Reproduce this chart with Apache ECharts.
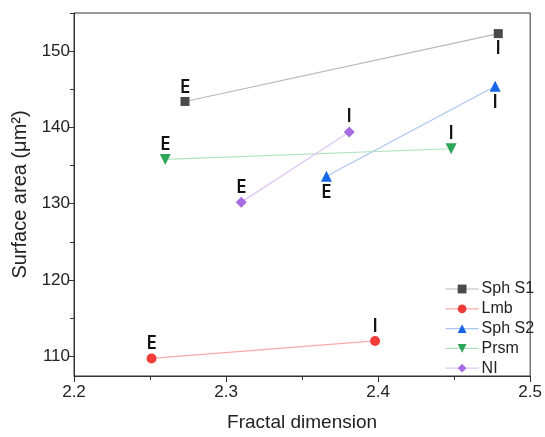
<!DOCTYPE html>
<html>
<head>
<meta charset="utf-8">
<script src="https://cdn.jsdelivr.net/npm/echarts@6/dist/echarts.min.js"></script>
<style>html,body{margin:0;padding:0;background:#fff}#chart{width:545px;height:437px}</style>
</head>
<body>
<div id="chart"></div>
<script>
// ---- data ----
const seriesNames = ['Sph S1', 'Lmb', 'Sph S2', 'Prsm', 'NI'];
const sphS1X = [2.273, 2.479];
const sphS1Y = [143.4, 152.3];
const lmbX = [2.251, 2.398];
const lmbY = [109.7, 112.0];
const sphS2X = [2.366, 2.477];
const sphS2Y = [133.6, 145.4];
const prsmX = [2.260, 2.448];
const prsmY = [135.8, 137.2];
const nlX = [2.310, 2.381];
const nlY = [130.2, 139.4];
const pointLabels = ['E', 'I'];
const xTicks = [2.2, 2.3, 2.4, 2.5];
const yTicks = [110, 120, 130, 140, 150];
const yMinorTicks = [110, 115, 120, 125, 130, 135, 140, 145, 150, 155];

// ---- styles ----
const styles = [
  {sym: 'rect', size: 9, rot: 0, color: '#4a4a4a', line: '#b8b8b8', pos: ['top', 'bottom']},
  {sym: 'circle', size: 10, rot: 0, color: '#f23b3b', line: '#f8aaaa', pos: ['top', 'top']},
  {sym: 'triangle', size: 11, rot: 0, color: '#1766e6', line: '#a8c6f4', pos: ['bottom', 'bottom']},
  {sym: 'triangle', size: 11, rot: 180, color: '#2ea65a', line: '#b0e2bf', pos: ['top', 'top']},
  {sym: 'diamond', size: 11, rot: 0, color: '#a66ce2', line: '#dfc5f7', pos: ['top', 'top']}
];
const xs = [sphS1X, lmbX, sphS2X, prsmX, nlX];
const ys = [sphS1Y, lmbY, sphS2Y, prsmY, nlY];

const series = seriesNames.map((name, i) => {
  const st = styles[i];
  return {
    name: name,
    type: 'line',
    symbol: st.sym,
    symbolSize: st.size,
    symbolRotate: st.rot,
    itemStyle: {color: st.color},
    lineStyle: {color: st.line, width: 1.2},
    z: 3,
    data: xs[i].map((x, j) => ({
      value: [x, ys[i][j]],
      label: {
        show: true,
        formatter: pointLabels[j],
        position: st.pos[j],
        distance: st.pos[j] === 'bottom' ? 3 : 2,
        color: '#111',
        fontFamily: 'Open Sans',
        fontWeight: 600,
        fontSize: 19,
        lineHeight: 15
      }
    }))
  };
});

const chart = echarts.init(document.getElementById('chart'), null, {renderer: 'canvas'});
chart.setOption({
  animation: false,
  backgroundColor: '#fff',
  grid: {left: 74, right: 13, top: 13, bottom: 56, show: true, borderColor: '#333', borderWidth: 1, backgroundColor: 'transparent'},
  legend: {
    orient: 'vertical',
    left: 440,
    top: 276,
    itemWidth: 33,
    itemHeight: 11,
    itemGap: 3.8,
    textStyle: {fontFamily: 'Liberation Sans', fontSize: 16, color: '#222', padding: [0, 0, 0, -2]},
    data: seriesNames.map((n, i) => ({name: n, lineStyle: {color: styles[i].line, width: 1.2}}))
  },
  xAxis: {
    type: 'value',
    min: 2.2,
    max: 2.5,
    interval: 0.1,
    name: 'Fractal dimension',
    nameLocation: 'middle',
    nameGap: 37,
    nameTextStyle: {fontFamily: 'Liberation Sans', fontSize: 19, color: '#222'},
    axisLine: {show: true, lineStyle: {color: '#333', width: 1}},
    axisTick: {show: true, length: 6, lineStyle: {color: '#333'}},
    minorTick: {show: true, splitNumber: 2, length: 4, lineStyle: {color: '#333'}},
    splitLine: {show: false},
    axisLabel: {fontFamily: 'Liberation Sans', fontSize: 17, color: '#222', margin: 8,
      formatter: v => v.toFixed(1)}
  },
  yAxis: [{
    type: 'value',
    min: 107.4,
    max: 155,
    name: 'Surface area (μm²)',
    nameLocation: 'middle',
    nameGap: 42,
    nameTextStyle: {fontFamily: 'Liberation Sans', fontSize: 20, color: '#222'},
    axisLine: {show: true, lineStyle: {color: '#333', width: 1}},
    axisTick: {show: true, length: 6, customValues: yTicks, lineStyle: {color: '#333'}},
    splitLine: {show: false},
    axisLabel: {fontFamily: 'Liberation Sans', fontSize: 17, color: '#222', margin: 4, customValues: yTicks}
  }, {
    type: 'value',
    position: 'left',
    min: 107.4,
    max: 155,
    axisLine: {show: false},
    axisTick: {show: true, length: 4, customValues: yMinorTicks, lineStyle: {color: '#333'}},
    splitLine: {show: false},
    axisLabel: {show: false}
  }],
  series: series
});
</script>
</body>
</html>
